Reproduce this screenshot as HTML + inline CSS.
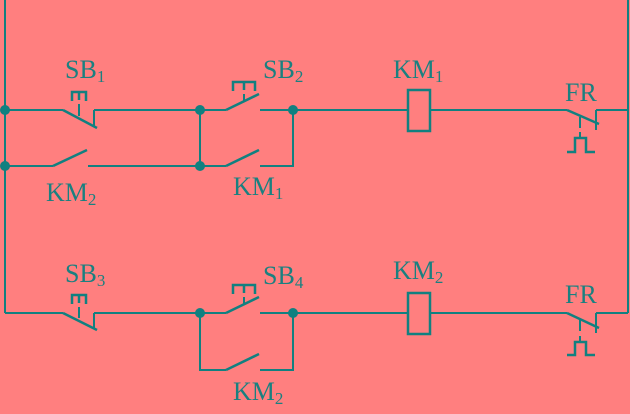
<!DOCTYPE html>
<html><head><meta charset="utf-8"><style>
html,body{margin:0;padding:0;background:#ff7f7f;}
svg{display:block;}
text{font-family:"Liberation Serif",serif;fill:#1a8080;font-size:26px;}
tspan.s{font-size:17px;}
</style></head><body>
<svg width="630" height="414" viewBox="0 0 630 414" xmlns="http://www.w3.org/2000/svg">
<g stroke="#118080" stroke-width="2" fill="none">
<line x1="5" y1="0" x2="5" y2="313"/>
<line x1="628" y1="0" x2="628" y2="313"/>
<line x1="5" y1="110" x2="63" y2="110"/>
<line x1="63" y1="110" x2="97" y2="128" stroke-width="2.5"/>
<line x1="94" y1="110" x2="94" y2="126"/>
<line x1="94" y1="110" x2="226" y2="110"/>
<line x1="226" y1="110" x2="259" y2="94" stroke-width="2.5"/>
<line x1="260" y1="110" x2="408" y2="110"/>
<rect x="408" y="90" width="22" height="41" stroke-width="2.5"/>
<line x1="430" y1="110" x2="567" y2="110"/>
<line x1="567" y1="110" x2="599" y2="124" stroke-width="2.5"/>
<line x1="596" y1="110" x2="596" y2="130"/>
<line x1="596" y1="110" x2="628" y2="110"/>
<line x1="580" y1="117" x2="580" y2="128"/>
<line x1="580" y1="132" x2="580" y2="138"/>
<polyline points="567,152 575,152 575,138 586,138 586,152 595,152" stroke-width="2.5"/>
<polyline points="72,101 72,92 86,92 86,101" stroke-width="2.5"/>
<line x1="79" y1="92" x2="79" y2="100" stroke-width="2.5"/>
<line x1="79" y1="104" x2="79" y2="116"/>
<polyline points="233,91 233,82 255,82 255,91" stroke-width="2.5"/>
<line x1="244" y1="82" x2="244" y2="90" stroke-width="2.5"/>
<line x1="244" y1="94" x2="244" y2="102"/>
<line x1="5" y1="166" x2="53" y2="166"/>
<line x1="53" y1="166" x2="87" y2="150" stroke-width="2.5"/>
<line x1="88" y1="166" x2="226" y2="166"/>
<line x1="226" y1="166" x2="259" y2="150" stroke-width="2.5"/>
<polyline points="260,166 293,166 293,110"/>
<line x1="200" y1="110" x2="200" y2="166"/>
<line x1="5" y1="313" x2="63" y2="313"/>
<line x1="63" y1="313" x2="97" y2="330" stroke-width="2.5"/>
<line x1="94" y1="313" x2="94" y2="328"/>
<line x1="94" y1="313" x2="226" y2="313"/>
<line x1="226" y1="313" x2="259" y2="297" stroke-width="2.5"/>
<line x1="260" y1="313" x2="408" y2="313"/>
<rect x="408" y="293" width="22" height="41" stroke-width="2.5"/>
<line x1="430" y1="313" x2="567" y2="313"/>
<line x1="567" y1="313" x2="599" y2="328" stroke-width="2.5"/>
<line x1="596" y1="313" x2="596" y2="333"/>
<line x1="596" y1="313" x2="628" y2="313"/>
<line x1="580" y1="320" x2="580" y2="331"/>
<line x1="580" y1="336" x2="580" y2="342"/>
<polyline points="567,355 575,355 575,342 586,342 586,355 595,355" stroke-width="2.5"/>
<polyline points="72,304 72,295 86,295 86,304" stroke-width="2.5"/>
<line x1="79" y1="295" x2="79" y2="303" stroke-width="2.5"/>
<line x1="79" y1="307" x2="79" y2="318"/>
<polyline points="233,294 233,285 255,285 255,294" stroke-width="2.5"/>
<line x1="244" y1="285" x2="244" y2="293" stroke-width="2.5"/>
<line x1="244" y1="297" x2="244" y2="305"/>
<polyline points="200,313 200,370 226,370"/>
<line x1="226" y1="370" x2="259" y2="354" stroke-width="2.5"/>
<polyline points="260,370 293,370 293,313"/>
</g>
<g fill="#118080">
<circle cx="5" cy="110" r="5"/>
<circle cx="5" cy="166" r="5"/>
<circle cx="200" cy="110" r="5"/>
<circle cx="200" cy="166" r="5"/>
<circle cx="293" cy="110" r="5"/>
<circle cx="200" cy="313" r="5"/>
<circle cx="293" cy="313" r="5"/>
</g>
<text x="65" y="78">SB<tspan class="s" dy="4">1</tspan></text>
<text x="263" y="78">SB<tspan class="s" dy="4">2</tspan></text>
<text x="393" y="78">KM<tspan class="s" dy="4">1</tspan></text>
<text x="565" y="101">FR</text>
<text x="46" y="201">KM<tspan class="s" dy="4">2</tspan></text>
<text x="233" y="195">KM<tspan class="s" dy="4">1</tspan></text>
<text x="65" y="282">SB<tspan class="s" dy="4">3</tspan></text>
<text x="263" y="284">SB<tspan class="s" dy="4">4</tspan></text>
<text x="393" y="279">KM<tspan class="s" dy="4">2</tspan></text>
<text x="565" y="303">FR</text>
<text x="233" y="400">KM<tspan class="s" dy="4">2</tspan></text>
</svg>
</body></html>
